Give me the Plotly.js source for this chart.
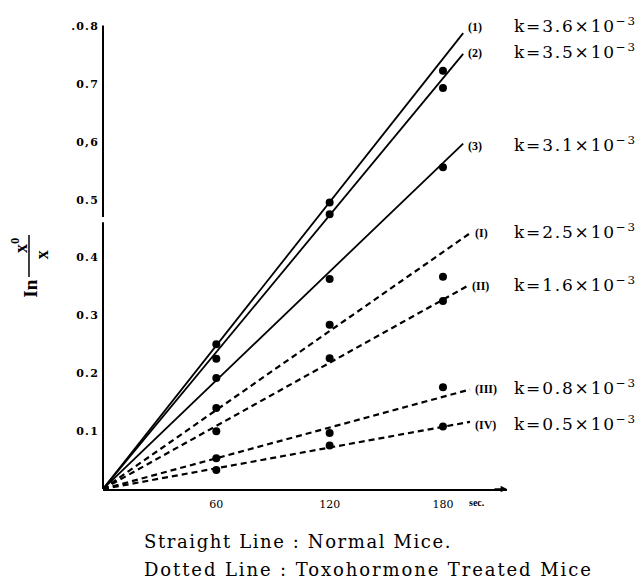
<!DOCTYPE html>
<html>
<head>
<meta charset="utf-8">
<script src="https://cdn.plot.ly/plotly-3.0.1.min.js"></script>
<style>
  html, body { margin: 0; padding: 0; background: #fff; }
  #chart { width: 643px; height: 580px; }
  .ytick text { letter-spacing: 1.2px; }
</style>
<style id="dyn"></style>
</head>
<body>
<div id="chart"></div>
<script>
// ---- data ----
const times = [60, 120, 180];
const normal1 = [0.250, 0.495, 0.723];
const normal2 = [0.225, 0.475, 0.693];
const normal3 = [0.192, 0.363, 0.556];
const toxoI   = [0.140, 0.284, 0.367];
const toxoII  = [0.100, 0.226, 0.325];
const toxoIII = [0.053, 0.097, 0.176];
const toxoIV  = [0.033, 0.075, 0.108];

// fitted straight lines through the origin: end points
const fitEndX = [190.7, 190.7, 190.7, 194.3, 192.5, 194.3, 194.3];
const fitEndY = [0.788, 0.752, 0.597, 0.442, 0.350, 0.172, 0.116];
const seriesTags = ['(1)', '(2)', '(3)', '(I)', '(II)', '(III)', '(IV)'];
const kValues = ['3.6', '3.5', '3.1', '2.5', '1.6', '0.8', '0.5'];

const xTickVals = [60, 120, 180];
const xTickText = ['60', '120', '180'];
const yTickVals = [0.1, 0.2, 0.3, 0.4, 0.5, 0.6, 0.7, 0.8];
const yTickText = ['0.1', '0.2', '0.3', '0.4', '0.5', '0,6', '0.7', '.0.8'];

const legendLine1 = 'Straight Line : Normal Mice.';
const legendLine2 = 'Dotted Line : Toxohormone Treated Mice';
// ---------------------------------------

// label vertical offsets in pixels (layout only)
const labelShift = [6, 1, -2, 0, 0, 0, -3];

const pointSets = [normal1, normal2, normal3, toxoI, toxoII, toxoIII, toxoIV];
const isDashed = [false, false, false, true, true, true, true];

const traces = [];
for (let i = 0; i < pointSets.length; i++) {
  traces.push({
    x: [0, fitEndX[i]], y: [0, fitEndY[i]],
    mode: 'lines', type: 'scatter', showlegend: false, hoverinfo: 'skip',
    line: { color: '#000', width: isDashed[i] ? 2.2 : 1.8, dash: isDashed[i] ? '6px,4px' : 'solid' }
  });
}
for (let i = 0; i < pointSets.length; i++) {
  traces.push({
    x: times, y: pointSets[i],
    mode: 'markers', type: 'scatter', showlegend: false,
    marker: { color: '#000', size: 8 }
  });
}

const serif = 'DejaVu Serif, serif';
const annotations = [];
const spacing = {};

for (let i = 0; i < seriesTags.length; i++) {
  annotations.push({
    x: fitEndX[i], y: fitEndY[i], xref: 'x', yref: 'y',
    xanchor: 'left', yanchor: 'middle', xshift: 3, yshift: labelShift[i], align: 'left',
    text: '<b>' + seriesTags[i] + '</b>', showarrow: false,
    font: { family: 'Liberation Serif, serif', size: 12, color: '#000' }
  });
}
for (let i = 0; i < kValues.length; i++) {
  spacing[annotations.length] = '1.8px';
  annotations.push({
    x: 1.0136, y: fitEndY[i], xref: 'paper', yref: 'y',
    xanchor: 'left', yanchor: 'middle', yshift: labelShift[i] + 2, align: 'left',
    text: 'k=' + kValues[i] + '×10<sup>−3</sup>', showarrow: false,
    font: { family: serif, size: 17, color: '#000' }
  });
}
// axis labels
annotations.push({
  x: 0.926, y: -0.028, xref: 'paper', yref: 'paper', xanchor: 'center', yanchor: 'middle',
  text: '<b>sec.</b>', showarrow: false, font: { family: 'Liberation Serif, serif', size: 10, color: '#000' }
});
annotations.push({
  x: -0.178, y: 0.430, xref: 'paper', yref: 'paper', xanchor: 'center', yanchor: 'middle',
  text: '<b>In</b>', textangle: -90, showarrow: false,
  font: { family: 'Liberation Serif, serif', size: 19, color: '#000' }
});
annotations.push({
  x: -0.2054, y: 0.5215, xref: 'paper', yref: 'paper', xanchor: 'center', yanchor: 'middle',
  text: '<b>x<sup>0</sup></b>', textangle: -90, showarrow: false,
  font: { family: 'Liberation Serif, serif', size: 18, color: '#000' }
});
annotations.push({
  x: -0.151, y: 0.504, xref: 'paper', yref: 'paper', xanchor: 'center', yanchor: 'middle',
  text: '<b>x</b>', textangle: -90, showarrow: false,
  font: { family: 'Liberation Serif, serif', size: 18, color: '#000' }
});
// x-axis arrow head
annotations.push({
  x: 1, y: 0, xref: 'paper', yref: 'y', ax: -14, ay: 0, axref: 'pixel', ayref: 'pixel',
  text: '', showarrow: true, arrowhead: 2, arrowsize: 0.8, arrowwidth: 1.6, arrowcolor: '#000'
});
// bottom legend text
spacing[annotations.length] = '1.6px';
annotations.push({
  x: 0.0965, y: -0.1116, xref: 'paper', yref: 'paper', xanchor: 'left', yanchor: 'middle', align: 'left',
  text: legendLine1, showarrow: false, font: { family: serif, size: 18, color: '#000' }
});
spacing[annotations.length] = '1.9px';
annotations.push({
  x: 0.0965, y: -0.1717, xref: 'paper', yref: 'paper', xanchor: 'left', yanchor: 'middle', align: 'left',
  text: legendLine2, showarrow: false, font: { family: serif, size: 18, color: '#000' }
});

let css = '';
for (const idx in spacing) {
  css += '.annotation[data-index="' + idx + '"] text { letter-spacing: ' + spacing[idx] + '; }\n';
}
document.getElementById('dyn').textContent = css;

const shapes = [
  { type: 'line', xref: 'paper', yref: 'y', x0: 0, x1: 0, y0: 0, y1: 0.461, line: { color: '#000', width: 2 } },
  { type: 'line', xref: 'paper', yref: 'y', x0: 0, x1: 0, y0: 0.470, y1: 0.801, line: { color: '#000', width: 2 } },
  { type: 'line', xref: 'paper', yref: 'paper', x0: -0.1832, x1: -0.1832, y0: 0.455, y1: 0.545, line: { color: '#000', width: 1.5 } }
];

const layout = {
  width: 643, height: 580,
  margin: { l: 103, r: 136, t: 23, b: 91 },
  paper_bgcolor: '#fff', plot_bgcolor: '#fff',
  showlegend: false,
  xaxis: {
    range: [0, 213.9], showgrid: false, zeroline: false,
    showline: true, linecolor: '#000', linewidth: 2,
    tickvals: xTickVals, ticktext: xTickText, ticks: '',
    ticklabelstandoff: 4,
    tickfont: { family: serif, size: 11, color: '#000' }
  },
  yaxis: {
    range: [0, 0.8054], showgrid: false, zeroline: false, showline: false,
    tickvals: yTickVals, ticktext: yTickText, ticks: '',
    ticklabelstandoff: 3,
    tickfont: { family: serif, size: 11, color: '#000', weight: 'bold' }
  },
  shapes: shapes,
  annotations: annotations
};

Plotly.newPlot('chart', traces, layout, { displayModeBar: false, staticPlot: true });
</script>
</body>
</html>
